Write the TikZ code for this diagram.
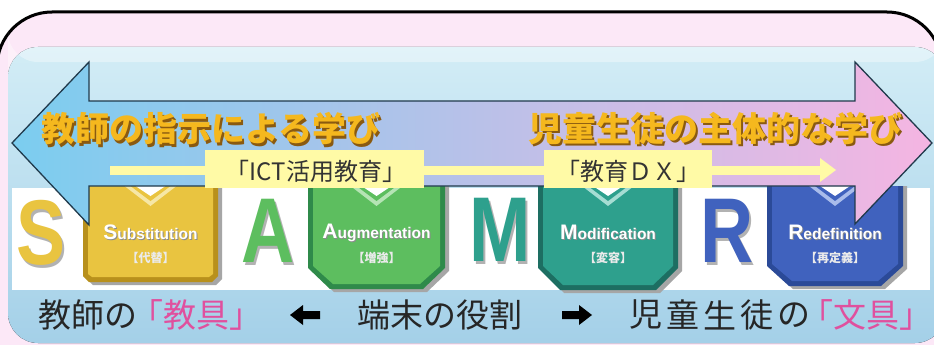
\documentclass[tikz,border=0pt]{standalone}
\usepackage{fontspec}
\setmainfont{Liberation Sans}
\newfontfamily\jp{Noto Sans CJK JP}
\definecolor{outerpink}{HTML}{FCE8F7}
\definecolor{panelT}{HTML}{D3EDF6}
\definecolor{panelB}{HTML}{A4D0E8}
\definecolor{arrL}{HTML}{7BCDEF}
\definecolor{arrM}{HTML}{D0BDEA}
\definecolor{arrR}{HTML}{F5B5E2}
\definecolor{arrline}{HTML}{203A4C}
\definecolor{ylw}{HTML}{FFFAA6}
\definecolor{titleor}{HTML}{F5B81E}
\definecolor{titlesh}{HTML}{8A5A10}
\definecolor{pinktxt}{HTML}{E0509E}
\definecolor{subD}{HTML}{B8901C}
\definecolor{subM}{HTML}{E9C440}
\definecolor{subL}{HTML}{F6E7A6}
\definecolor{augD}{HTML}{2F8A4A}
\definecolor{augM}{HTML}{5DBE5F}
\definecolor{augL}{HTML}{B5E4B4}
\definecolor{modD}{HTML}{1D6E62}
\definecolor{modM}{HTML}{2EA08D}
\definecolor{modL}{HTML}{A6DDD3}
\definecolor{redD}{HTML}{2B4A98}
\definecolor{redM}{HTML}{4062BE}
\definecolor{redL}{HTML}{A9BCEB}
\newcommand\shadowtxt[4]{\rlap{\kern#3\raisebox{-#3}{\textcolor{#2}{#1}}}\textcolor{#4}{#1}}
\tikzset{
  titletxt/.style={font=\jp\bfseries\fontsize{34}{34}\selectfont, inner sep=0pt},
  bottxt/.style={font=\jp\fontsize{33}{33}\selectfont, inner sep=0pt, text=black!85},
  lbltxt/.style={font=\jp\fontsize{24}{24}\selectfont, inner sep=0pt, text=black!80},
  bigletter/.style={font=\bfseries\fontsize{92}{92}\selectfont, inner sep=0pt},
  boxlbl/.style={font=\bfseries\fontsize{15.5}{16}\selectfont, inner sep=0pt},
  boxjp/.style={font=\jp\bfseries\fontsize{12}{12}\selectfont, inner sep=0pt},
}
\begin{document}
\begin{tikzpicture}[x=1pt,y=-1pt]
\useasboundingbox (0,0) rectangle (934,345);
\begin{scope}
\clip (0,0) rectangle (934,345);
% outer panel
\fill[white] (0,0) rectangle (934,345);
\draw[line width=3pt, fill=outerpink, rounded corners=55pt] (-3,12) rectangle (942,430);
% inner panel
\fill[top color=panelT, bottom color=panelB, rounded corners=30pt] (8,47) rectangle (945,343);
\fill[white, opacity=0.35, rounded corners=30pt] (8,47) rectangle (945,62);
% white band
\fill[white] (12,188) rectangle (930,290);
% big letters
\foreach \px/\py/\col/\ch/\nm in {41/234/subM/S/lS, 268/232/augM/A/lA, 500/231/modM/M/lM, 727/232/redM/R/lR}{
  \node[bigletter] (\nm) at (\px,\py) {\scalebox{0.8}[1]{\shadowtxt{\ch}{black!30}{3pt}{\col}}};
}
% SAMR boxes
\foreach \L/\R/\S/\B/\c/\dk/\mn/\lt/\nm/\big/\rest/\jpt in {
  83/218/276/282/6/subD/subM/subL/bS/S/ubstitution/【代替】,
  308/445/268/289/22/augD/augM/augL/bA/A/ugmentation/【増強】,
  538/678/268/290/22/modD/modM/modL/bM/M/odification/【変容】,
  767/903/266/286/22/redD/redM/redL/bR/R/edefinition/【再定義】}{
  \pgfmathsetmacro\cx{(\L+\R)/2}
  \fill[black!35] (\L+4,186) -- (\R+4,186) -- (\R+4,\S+3) -- (\R-\c+4,\B+3) -- (\L+\c+4,\B+3) -- (\L+4,\S+3) -- cycle;
  \fill[\dk] (\L,186) -- (\R,186) -- (\R,\S) -- (\R-\c,\B) -- (\L+\c,\B) -- (\L,\S) -- cycle;
  \fill[\mn] (\L+5,186) -- (\R-5,186) -- (\R-5,\S-2) -- (\R-\c-3,\B-5) -- (\L+\c+3,\B-5) -- (\L+5,\S-2) -- cycle;
  \fill[\lt] (\cx-26,186) -- (\cx+26,186) -- (\cx,206) -- cycle;
  \fill[\mn] (\cx-20,186) -- (\cx+20,186) -- (\cx,201) -- cycle;
  \fill[white] (\cx-15,186) -- (\cx+15,186) -- (\cx,196) -- cycle;
  \node[boxlbl] (\nm-t) at (\cx,233) {\shadowtxt{{\fontsize{21}{21}\selectfont\big}\rest}{black!45}{1pt}{white}};
  \node[boxjp, text=white!92!black] (\nm-j) at (\cx,258) {\jpt};
}
% big double arrow
\draw[line width=1.3pt, draw=arrline, left color=arrL, middle color=arrM, right color=arrR]
  (12,143) -- (89,62) -- (89,101) -- (855,101) -- (855,62) -- (932,143) -- (855,224) -- (855,186) -- (89,186) -- (89,225) -- cycle;
% yellow line arrow
\fill[ylw] (110,165.5) rectangle (822,174.5);
\fill[ylw] (820,158) -- (836,170) -- (820,182) -- cycle;
% labels
\fill[ylw] (205,150) rectangle (424,188);
\node[lbltxt] (ict) at (316,171) {「ICT活用教育」};
\fill[ylw] (544,150) rectangle (712,188);
\node[lbltxt] (dx) at (628,171) {「教育ＤＸ」};
% titles
\node[titletxt] (t1) at (211,130) {\shadowtxt{教師の指示による学び}{titlesh}{2.2pt}{titleor}};
\node[titletxt] (t2) at (715,130) {\shadowtxt{児童生徒の主体的な学び}{titlesh}{2.2pt}{titleor}};
% bottom text
\node[bottxt] (b1) at (88,315) {教師の};
\node[bottxt, text=pinktxt] (b2) at (196,315) {「教具」};
\fill[black] (290,315) -- (303,305) -- (303,311) -- (320,311) -- (320,319) -- (303,319) -- (303,325) -- cycle;
\node[bottxt] (b3) at (440,315) {端末の役割};
\fill[black] (592,315) -- (579,305) -- (579,311) -- (562,311) -- (562,319) -- (579,319) -- (579,325) -- cycle;
\foreach \ch [count=\i from 0] in {児,童,生,徒,の}{
  \node[bottxt] (c\i) at (646+37*\i,315) {\ch};
}
\node[bottxt, text=pinktxt] (b5) at (866,315) {「文具」};
\end{scope}
\end{tikzpicture}
\end{document}
